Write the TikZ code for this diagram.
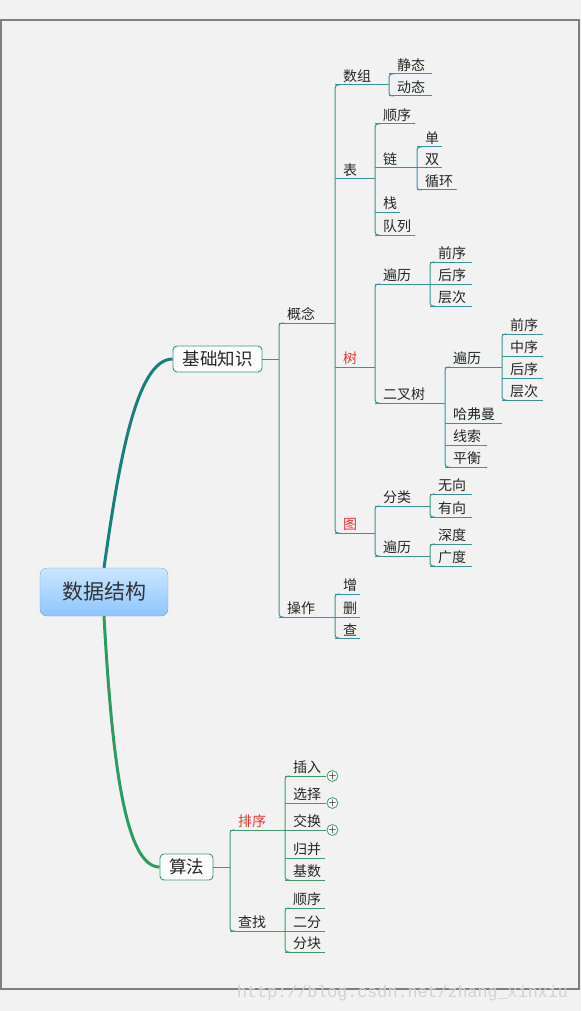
\documentclass[tikz,border=0pt]{standalone}
\usepackage{fontspec}
\newfontfamily\cjk{Noto Sans CJK SC}
\newfontfamily\wmfont{Liberation Mono}
\usetikzlibrary{positioning, calc}

\definecolor{bgcol}{HTML}{F2F2F2}
\definecolor{framecol}{HTML}{7F7F7F}
\definecolor{upcol}{HTML}{3A9494}
\definecolor{upcurve}{HTML}{17807C}
\definecolor{downcol}{HTML}{3F9C6C}
\definecolor{downcurve}{HTML}{2E9B60}
\definecolor{redtxt}{HTML}{E53935}
\definecolor{txtcol}{HTML}{262626}
\definecolor{roottop}{HTML}{CBE6FF}
\definecolor{rootbot}{HTML}{8DC5FF}
\definecolor{rootline}{HTML}{8AA2BA}
\definecolor{wmcol}{HTML}{D2D2D2}

\begin{document}
\begin{tikzpicture}[
    x=1pt, y=-1pt,
    rootbox/.style={
      align=center, draw=rootline, rounded corners=7pt, top color=roottop, bottom color=rootbot,
      minimum width=128pt, minimum height=48pt, font=\cjk\fontsize{21}{24}\selectfont, text=black!80
    },
    mainbox/.style={
      align=center, draw, fill=white, rounded corners=4pt, line width=.9pt, minimum height=26pt,
      inner xsep=0pt, font=\cjk\fontsize{17.5}{20}\selectfont, text=txtcol
    },
    leaf/.style={
      anchor=south west, inner xsep=0pt, inner ysep=2pt, text width=#1pt, align=left,
      font=\cjk\fontsize{14}{16}\selectfont, text=txtcol,
      execute at begin node={\noindent\hspace*{8pt}}
    },
    upln/.style={draw=upcol, line width=1pt},
    dnln/.style={draw=downcol, line width=1pt},
    bracket/.style={rounded corners=3pt},
    plusmark/.style={
      circle, draw=downcol, fill=white, line width=.8pt, minimum size=10pt, inner sep=0pt,
      font=\fontsize{9}{9}\selectfont\bfseries
    },
  ]
    % background and frame
    \fill[bgcol] (0,0) rectangle (581,1011);
    \useasboundingbox (0,0) rectangle (581,1011);
    \draw[framecol, line width=1.2pt] (1,20) rectangle (579,989);

    % main topics
    \node [rootbox] (root) at (104,592) {数据结构};
    \node [mainbox, draw=upcol, minimum width=89pt] (jichu) at (217.5,359) {基础知识};
    \node [mainbox, draw=downcol, minimum width=53pt] (suanfa) at (186.5,867) {算法};

    % curves from the root
    \draw [upcurve, line width=3pt] (root.north) .. controls (118,470) and (135,359) .. (jichu.west);
    \draw [downcurve, line width=3pt] (root.south) .. controls (112,760) and (125,867) .. (suanfa.west);

    % Jichu branch
    \node [leaf=56] (gainian) at (279,323) {概念};
    \node [leaf=56] (caozuo) at (279,617) {操作};

    \node [leaf=54] (shuzu) at (335,85) {数组};
    \node [leaf=40] (biao) at (335,179) {表};
    \node [leaf=40, text=redtxt] (shu) at (335,367) {树};
    \node [leaf=40, text=redtxt] (tu) at (335,533) {图};

    \node [leaf=43] (jingtai) at (389,74) {静态};
    \node [leaf=43] (dongtai) at (389,96) {动态};

    \node [leaf=40] (shunxu) at (375,124) {顺序};
    \node [leaf=42] (lian) at (375,168) {链};
    \node [leaf=25] (zhan) at (375,212) {栈};
    \node [leaf=40] (duilie) at (375,235) {队列};

    \node [leaf=25] (dan) at (417,147) {单};
    \node [leaf=25] (shuang) at (417,168) {双};
    \node [leaf=40] (xunhuan) at (417,190) {循环};

    \node [leaf=55] (bianli) at (375,284) {遍历};
    \node [leaf=70] (erchashu) at (375,403) {二叉树};

    \node [leaf=42] (qianxu) at (430,262) {前序};
    \node [leaf=42] (houxu) at (430,284) {后序};
    \node [leaf=42] (cengci) at (430,306) {层次};

    \node [leaf=57] (ercha_bianli) at (445,367) {遍历};
    \node [leaf=57] (hafuman) at (445,423) {哈弗曼};
    \node [leaf=42] (xiansuo) at (445,445) {线索};
    \node [leaf=42] (pingheng) at (445,467) {平衡};

    \node [leaf=41] (ercha_qianxu) at (502,334) {前序};
    \node [leaf=41] (ercha_zhongxu) at (502,356) {中序};
    \node [leaf=41] (ercha_houxu) at (502,378) {后序};
    \node [leaf=41] (ercha_cengci) at (502,400) {层次};

    \node [leaf=55] (fenlei) at (375,506) {分类};
    \node [leaf=55] (tu_bianli) at (375,556) {遍历};

    \node [leaf=42] (wuxiang) at (430,494) {无向};
    \node [leaf=42] (youxiang) at (430,517) {有向};
    \node [leaf=42] (shendu) at (430,544) {深度};
    \node [leaf=42] (guangdu) at (430,566) {广度};

    \node [leaf=25] (zeng) at (335,594) {增};
    \node [leaf=25] (shan) at (335,617) {删};
    \node [leaf=25] (cha) at (335,638) {查};

    % Suanfa branch
    \node [leaf=55, text=redtxt] (paixu) at (230,830) {排序};
    \node [leaf=55] (chazhao) at (230,931) {查找};

    \node [leaf=41] (charu) at (285,776) {插入};
    \node [leaf=41] (xuanze) at (285,803) {选择};
    \node [leaf=41] (jiaohuan) at (285,830) {交换};
    \node [leaf=40] (guibing) at (285,858) {归并};
    \node [leaf=40] (jishu) at (285,880) {基数};

    \node [leaf=40] (shunxu_cz) at (285,908) {顺序};
    \node [leaf=40] (erfen) at (285,931) {二分};
    \node [leaf=40] (fenkuai) at (285,952) {分块};

    % collapse marks
    \node [plusmark] (charu_plus) at ([xshift=6pt]charu.south east) {+};
    \node [plusmark] (xuanze_plus) at ([xshift=6pt]xuanze.south east) {+};
    \node [plusmark] (jiaohuan_plus) at ([xshift=6pt]jiaohuan.south east) {+};

    % underlines
    \foreach \n in {gainian, caozuo, shuzu, biao, shu, tu, jingtai, dongtai, shunxu, lian, zhan, duilie,
      dan, shuang, xunhuan, bianli, erchashu, qianxu, houxu, cengci, ercha_bianli, hafuman, xiansuo,
      pingheng, ercha_qianxu, ercha_zhongxu, ercha_houxu, ercha_cengci, fenlei, tu_bianli, wuxiang,
      youxiang, shendu, guangdu, zeng, shan, cha}
      \draw [upln] (\n.south west) -- (\n.south east);
    \foreach \n in {paixu, chazhao, charu, xuanze, jiaohuan, guibing, jishu, shunxu_cz, erfen, fenkuai}
      \draw [dnln] (\n.south west) -- (\n.south east);

    % brackets
    \draw [upln] (jichu.east) -- (jichu.east -| gainian.south west);
    \foreach \a/\b in {gainian/caozuo, shuzu/tu, jingtai/dongtai, shunxu/duilie, dan/xunhuan,
      bianli/erchashu, qianxu/cengci, ercha_bianli/pingheng, ercha_qianxu/ercha_cengci,
      fenlei/tu_bianli, wuxiang/youxiang, shendu/guangdu, zeng/cha}
      \draw [upln, bracket] ([xshift=5pt]\a.south west) -- (\a.south west) -- (\b.south west) -- ([xshift=5pt]\b.south west);

    \draw [dnln] (suanfa.east) -- (suanfa.east -| paixu.south west);
    \foreach \a/\b in {paixu/chazhao, charu/jishu, shunxu_cz/fenkuai}
      \draw [dnln, bracket] ([xshift=5pt]\a.south west) -- (\a.south west) -- (\b.south west) -- ([xshift=5pt]\b.south west);

    % watermark
    \node [text=wmcol, font=\wmfont\fontsize{16.7}{18}\selectfont, anchor=west, inner sep=0pt] (watermark) at (237,993) {http://blog.csdn.net/zhang\_xinxiu};

  \end{tikzpicture}
\end{document}
